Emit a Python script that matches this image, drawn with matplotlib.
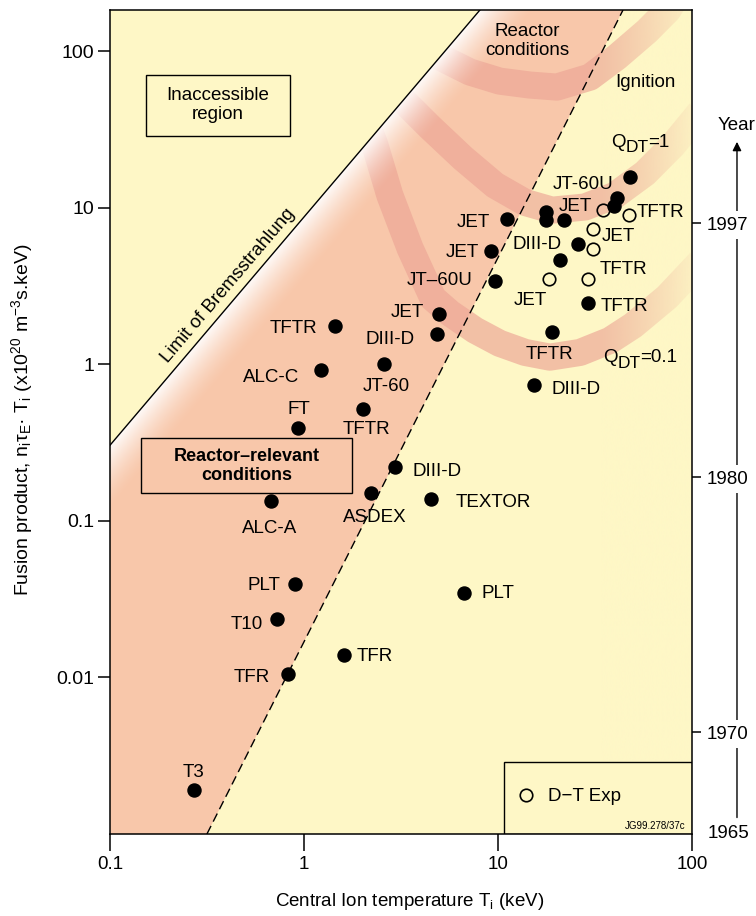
import numpy as np
import matplotlib
matplotlib.use("Agg")
import matplotlib.pyplot as plt
from matplotlib.patches import Polygon, Rectangle
from matplotlib.lines import Line2D
from matplotlib.ticker import NullLocator

plt.rcParams["font.family"] = ["Liberation Sans", "DejaVu Sans"]
plt.rcParams["mathtext.fontset"] = "custom"
plt.rcParams["mathtext.rm"] = "Liberation Sans"
plt.rcParams["mathtext.it"] = "Liberation Sans:italic"
plt.rcParams["mathtext.bf"] = "Liberation Sans:bold"

FS = 13.5

# ---------------- data ----------------
# Tokamak results: central ion temperature (keV) and fusion product (1e20 m^-3 s keV)
dd_T = [0.271, 0.827, 0.726, 0.899, 1.61, 6.68, 4.52, 2.22, 2.94, 0.676,
        0.931, 2.01, 1.22, 2.58, 1.44, 4.96, 4.85, 9.66, 9.20, 11.1,
        17.7, 17.7, 21.9, 25.8, 20.9, 41.0, 39.6, 47.9, 29.1, 19.0, 15.3]
dd_ntt = [0.0019, 0.0105, 0.0235, 0.0393, 0.0140, 0.0344, 0.137, 0.150, 0.220, 0.133,
          0.390, 0.515, 0.916, 1.00, 1.75, 2.09, 1.56, 3.39, 5.27, 8.45,
          9.36, 8.32, 8.32, 5.84, 4.62, 11.5, 10.2, 15.7, 2.45, 1.60, 0.734]

# D-T experiments
dt_T = [34.8, 47.3, 30.9, 30.9, 18.3, 29.1]
dt_ntt = [9.64, 8.96, 7.29, 5.43, 3.49, 3.49]

# Device labels (text, T, fusion product)
label_text = ["T3", "T10", "PLT", "TFR", "TFR", "PLT", "TEXTOR", "DIII-D", "ASDEX",
              "ALC-A", "FT", "TFTR", "JT-60", "ALC-C", "DIII-D", "TFTR", "JET",
              "JT\u201360U", "JET", "JET", "DIII-D", "JT-60U", "JET", "TFTR", "JET",
              "TFTR", "JET", "TFTR", "TFTR", "DIII-D"]
label_T = [0.268, 0.508, 0.622, 0.540, 2.32, 10.0, 9.42, 4.85, 2.32,
           0.661, 0.942, 2.11, 2.65, 0.676, 2.77, 0.877, 3.40,
           5.02, 6.52, 7.43, 15.9, 27.4, 24.9, 68.4, 41.6,
           44.1, 14.6, 45.1, 18.5, 25.2]
label_ntt = [0.00247, 0.0218, 0.0387, 0.0100, 0.0136, 0.0344, 0.131, 0.207, 0.105,
             0.0895, 0.515, 0.384, 0.723, 0.826, 1.44, 1.70, 2.15,
             3.44, 5.20, 8.08, 5.84, 14.1, 10.2, 9.36, 6.57,
             4.05, 2.56, 2.35, 1.16, 0.692]

# Bremsstrahlung limit and reactor-relevant boundary
brems_T = [0.1, 8.07]
brems_ntt = [0.304, 183.0]
relevant_T = [0.316, 44.1]
relevant_ntt = [0.001, 183.0]

# Q contours (ignition, Q_DT = 1, Q_DT = 0.1)
ign_T = [4.2, 5.02, 7.17, 10.2, 14.6, 20.1, 29.8, 41.0, 58.6, 75.2, 86.7]
ign_ntt = [117, 91.6, 73.5, 64.3, 60.7, 58.9, 68.2, 91.6, 134, 183, 245]
q1_T = [2.62, 3.12, 4.46, 6.60, 9.66, 13.8, 19.0, 28.1, 40.1, 57.3, 79.8, 110]
q1_ntt = [67.1, 50.8, 32.7, 20.7, 13.9, 10.8, 9.64, 10.1, 12.0, 16.6, 25.1, 40.7]
q01_T = [1.99, 2.32, 2.77, 3.52, 4.62, 5.66, 7.61, 10.2, 13.8, 18.5, 26.5, 37.8,
         49.7, 74.3, 110]
q01_ntt = [42.0, 25.1, 12.0, 5.51, 2.64, 2.12, 1.65, 1.36, 1.19, 1.11, 1.19, 1.42,
           1.77, 2.68, 4.49]

# Q labels: value, T and fusion product at the baseline of "Q"
q_values = ["1", "0.1"]
q_T = [38.2, 34.8]
q_ntt = [24.4, 1.03]

# Year scale on the right
year_labels = ["1970", "1980", "1997"]
year_ntt = [0.00446, 0.190, 7.96]

# ---------------- colours ----------------
YELLOW = "#FEF7C6"
SALMON = "#F8C7AA"
BAND = (0.925, 0.645, 0.585)

fig = plt.figure(figsize=(7.56, 9.16), dpi=100)
fig.patch.set_facecolor("white")
ax = fig.add_axes([110 / 756, 82 / 916, 582 / 756, 824 / 916])
ax.set_xscale("log")
ax.set_yscale("log")
ax.set_xlim(0.1, 100)
ax.set_ylim(0.001, 183)
ax.set_facecolor(YELLOW)

# reactor-relevant region between the two boundaries
salmon_poly = Polygon([(relevant_T[0], relevant_ntt[0]), (relevant_T[1], relevant_ntt[1]),
                       (brems_T[1], brems_ntt[1]), (brems_T[0], brems_ntt[0]),
                       (0.1, 0.001)], closed=True, transform=ax.transData,
                      facecolor=SALMON, edgecolor="none", zorder=1)
ax.add_patch(salmon_poly)

# accessible region (below Bremsstrahlung limit) used to clip the Q bands
accessible = Polygon([(0.1, 0.001), (brems_T[0], brems_ntt[0]), (brems_T[1], brems_ntt[1]),
                      (100, 183), (100, 0.001)], closed=True, transform=ax.transData,
                     facecolor="none", edgecolor="none")
ax.add_patch(accessible)
accessible.set_visible(False)

for bt, bn in [(ign_T, ign_ntt), (q1_T, q1_ntt), (q01_T, q01_ntt)]:
    ln, = ax.plot(bt, bn, color=BAND, alpha=0.66, lw=19.5, solid_capstyle="butt",
                  solid_joinstyle="round", zorder=2)
    ln.set_clip_path(accessible)

# fade of the bands toward the right edge (outside reactor-relevant region)
outer = Polygon([(relevant_T[0], relevant_ntt[0]), (relevant_T[1], relevant_ntt[1]),
                 (100, 183), (100, 0.001)], closed=True, transform=ax.transData,
                facecolor="none", edgecolor="none")
ax.add_patch(outer)
outer.set_visible(False)

bb = ax.bbox
W = int(round(bb.width))
H = int(round(bb.height))
x0f = 490.0 / W
nx = 200
ramp = np.linspace(0, 1, nx)
alpha_r = 0.88 * ramp ** 1.1
ycol = np.array(matplotlib.colors.to_rgb(YELLOW))
fade = np.zeros((2, nx, 4))
fade[..., :3] = ycol
fade[..., 3] = alpha_r[None, :]
im = ax.imshow(fade, extent=(x0f, 1, 0, 1), transform=ax.transAxes, origin="lower",
               aspect="auto", interpolation="bilinear", zorder=3)
im.set_clip_path(outer)

# soft white glow along the Bremsstrahlung limit
p0 = ax.transData.transform((brems_T[0], brems_ntt[0])) - np.array([bb.x0, bb.y0])
p1 = ax.transData.transform((brems_T[1], brems_ntt[1])) - np.array([bb.x0, bb.y0])
xs = np.arange(W) + 0.5
ys = np.arange(H) + 0.5
XX, YY = np.meshgrid(xs, ys)
d = p1 - p0
nrm = np.hypot(*d)
dist = -(d[0] * (YY - p0[1]) - d[1] * (XX - p0[0])) / nrm
glow = np.zeros((H, W, 4))
glow[..., :3] = 1.0
glow[..., 3] = np.where(dist > 0, 0.93 * np.clip(1 - dist / 42.0, 0, 1) ** 1.5, 0)
ax.imshow(glow, extent=(0, 1, 0, 1), transform=ax.transAxes, origin="lower",
          aspect="auto", interpolation="bilinear", zorder=3)

# boundaries
ax.plot(brems_T, brems_ntt, color="black", lw=1.0, zorder=5)
ax.plot(relevant_T, relevant_ntt, color="black", lw=1.0, ls=(0, (6.5, 3.5)), zorder=5)

# boxes
ax.add_patch(Rectangle((0.0613, 0.8475), 0.248, 0.0736, transform=ax.transAxes,
                       facecolor=YELLOW, edgecolor="black", lw=1.0, zorder=4))
ax.text(0.1853, 0.8843, "Inaccessible\nregion", transform=ax.transAxes, ha="center",
        va="center", fontsize=FS, linespacing=1.15, zorder=7)
ax.add_patch(Rectangle((0.0527, 0.4135), 0.3636, 0.0667, transform=ax.transAxes,
                       facecolor=SALMON, edgecolor="black", lw=1.0, zorder=4))
ax.text(0.2345, 0.4470, "Reactor\u2013relevant\nconditions", transform=ax.transAxes,
        ha="center", va="center", fontsize=13, fontweight="bold", linespacing=1.15, zorder=7)

# legend box
ax.add_patch(Rectangle((0.6775, 0.0), 0.3225, 0.0877, transform=ax.transAxes,
                       facecolor=YELLOW, edgecolor="black", lw=1.0, zorder=4))
h = Line2D([], [], marker="o", ls="none", mfc="none", mec="black", ms=9, mew=1.2)
leg = ax.legend([h], ["D\u2212T Exp"], loc="center left", bbox_to_anchor=(0.6986, 0.0455),
                frameon=False, fontsize=FS, handlelength=1.0, handletextpad=0.7,
                borderpad=0, borderaxespad=0)
leg.set_zorder(8)
ax.text(0.988, 0.0095, "JG99.278/37c", transform=ax.transAxes, ha="right", va="center",
        fontsize=7, zorder=7)

# data points
ax.plot(dd_T, dd_ntt, "o", color="black", ms=9.4, ls="none", zorder=6)
ax.plot(dt_T, dt_ntt, "o", mfc="none", mec="black", ms=9, mew=1.2, ls="none", zorder=6)

for s, t, n in zip(label_text, label_T, label_ntt):
    ax.text(t, n, s, ha="center", va="center", fontsize=FS, zorder=7)

# region annotations
ax.text(14.1, 115.8, "Reactor\nconditions", ha="center", va="center", fontsize=FS,
        linespacing=1.15, zorder=7)
ax.text(57.3, 63.4, "Ignition", ha="center", va="center", fontsize=FS, zorder=7)
for val, t, n in zip(q_values, q_T, q_ntt):
    ax.annotate("Q", (t, n), xytext=(0, 0), textcoords="offset points", ha="left",
                va="baseline", fontsize=FS, zorder=7)
    ax.annotate("DT", (t, n), xytext=(10.4, -3.8), textcoords="offset points", ha="left",
                va="baseline", fontsize=12.5, zorder=7)
    ax.annotate("=" + val, (t, n), xytext=(27.0, 0), textcoords="offset points", ha="left",
                va="baseline", fontsize=FS, zorder=7)

# Bremsstrahlung label along the line
q0 = ax.transData.transform((brems_T[0], brems_ntt[0]))
q1 = ax.transData.transform((brems_T[1], brems_ntt[1]))
ang = np.degrees(np.arctan2(q1[1] - q0[1], q1[0] - q0[0]))
ax.text(0.406, 3.2, "Limit of Bremsstrahlung", rotation=ang, rotation_mode="anchor",
        ha="center", va="center", fontsize=FS, zorder=7)

# axes styling
for sp in ax.spines.values():
    sp.set_linewidth(1.1)
    sp.set_zorder(9)
ax.set_xticks([0.1, 1, 10, 100])
ax.set_xticklabels(["0.1", "1", "10", "100"])
ax.set_yticks([0.01, 0.1, 1, 10, 100])
ax.set_yticklabels(["0.01", "0.1", "1", "10", "100"])
ax.xaxis.set_minor_locator(NullLocator())
ax.yaxis.set_minor_locator(NullLocator())
ax.tick_params(axis="x", direction="out", length=12, width=1.1, pad=4, labelsize=FS)
ax.tick_params(axis="y", direction="out", length=9, width=1.1, pad=2.5, labelsize=14)

fig.text(22 / 756, 1 - 420 / 916,
         r"Fusion product, n$_{\mathrm{i}}$τ$_{\mathrm{E}}$· T$_{\mathrm{i}}$ (x10$^{20}$ m$^{-3}$s.keV)",
         rotation=90, ha="center", va="center", fontsize=14)
fig.text(410 / 756, 1 - 901 / 916, r"Central Ion temperature T$_{\mathrm{i}}$ (keV)",
         ha="center", va="center", fontsize=FS)

# year scale
ax2 = ax.twinx()
ax2.set_yscale("log")
ax2.set_ylim(ax.get_ylim())
ax2.set_yticks(year_ntt)
ax2.set_yticklabels(year_labels)
ax2.yaxis.set_minor_locator(NullLocator())
ax2.tick_params(axis="y", direction="out", length=8.6, width=1.1, pad=2, labelsize=FS)
for sp in ax2.spines.values():
    sp.set_visible(False)
for lbl in ax2.get_yticklabels():
    lbl.set_bbox(dict(facecolor="white", edgecolor="none", pad=4))
ax2.text(1.0275, 0.0, "1965", transform=ax2.transAxes, ha="left", va="center",
         fontsize=FS, bbox=dict(facecolor="white", edgecolor="none", pad=4), zorder=4)
arr = ax2.annotate("", xy=(1.0773, 0.840), xytext=(1.0773, 0.02),
                   xycoords="axes fraction", textcoords="axes fraction",
                   arrowprops=dict(arrowstyle="-|>", lw=1.0, color="black",
                                   mutation_scale=13, shrinkA=0, shrinkB=0),
                   annotation_clip=False)
arr.set_zorder(1)
ax2.text(1.0447, 0.860, "Year", transform=ax2.transAxes, ha="left", va="center",
         fontsize=FS)

fig.savefig("out.png", dpi=100, facecolor="white")
